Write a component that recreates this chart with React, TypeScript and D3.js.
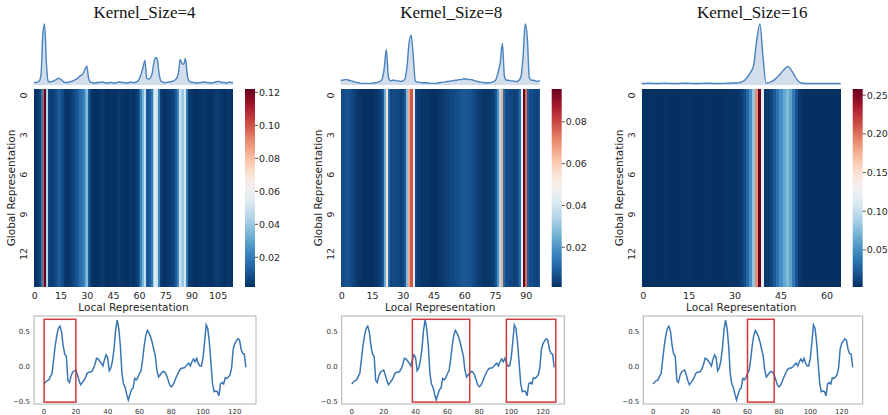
import * as d3 from 'd3'

// input signal (128 steps), same in all three panels
const series = [
  -0.25, -0.22, -0.20, -0.19, -0.14, -0.10, 0.10, 0.30, 0.45, 0.55,
  0.58, 0.50, 0.30, 0.18, 0.15, -0.20, -0.23, -0.13, -0.08, -0.06,
  -0.05, -0.12, -0.20, -0.26, -0.23, -0.20, -0.16, -0.10, -0.08, -0.08,
  -0.07, -0.03, 0.03, 0.12, 0.11, 0.08, 0.05, 0.01, 0.10, 0.17,
  0.13, -0.06, -0.02, 0.08, 0.25, 0.52, 0.67, 0.55, 0.30, -0.10,
  -0.25, -0.30, -0.40, -0.48, -0.40, -0.33, -0.31, -0.17, -0.19, -0.16,
  -0.10, -0.06, 0.10, 0.30, 0.45, 0.52, 0.48, 0.43, 0.35, 0.25,
  0.15, -0.05, -0.15, -0.12, -0.09, -0.07, -0.08, -0.12, -0.19, -0.26,
  -0.29, -0.27, -0.22, -0.16, -0.11, -0.06, -0.03, -0.02, -0.02, 0.00,
  0.03, 0.05, 0.01, 0.07, 0.11, 0.07, 0.12, 0.05, 0.01, 0.01,
  0.12, 0.35, 0.60, 0.55, 0.35, 0.05, -0.25, -0.36, -0.35, -0.36,
  -0.42, -0.25, -0.23, -0.25, -0.16, -0.17, -0.15, -0.12, -0.02, 0.25,
  0.33, 0.37, 0.40, 0.38, 0.25, 0.19, 0.18, -0.01,
]

// attention weight per local position (every global row is the same)
const attnK4 = [
  0.003, 0.003, 0.004, 0.006, 0.02, 0.10, 0.122, 0.045, 0.006, 0.004,
  0.005, 0.006, 0.008, 0.01, 0.012, 0.01, 0.007, 0.004, 0.003, 0.003,
  0.004, 0.005, 0.006, 0.008, 0.01, 0.012, 0.016, 0.018, 0.022, 0.03,
  0.036, 0.012, 0.004, 0.003, 0.002, 0.002, 0.003, 0.003, 0.004, 0.004,
  0.003, 0.002, 0.002, 0.003, 0.003, 0.002, 0.002, 0.003, 0.004, 0.004,
  0.003, 0.003, 0.002, 0.002, 0.003, 0.004, 0.003, 0.003, 0.004, 0.006,
  0.012, 0.022, 0.035, 0.048, 0.012, 0.01, 0.012, 0.02, 0.042, 0.054,
  0.05, 0.022, 0.006, 0.004, 0.003, 0.003, 0.004, 0.004, 0.005, 0.006,
  0.008, 0.012, 0.022, 0.05, 0.042, 0.04, 0.052, 0.02, 0.006, 0.004,
  0.003, 0.003, 0.002, 0.002, 0.003, 0.003, 0.004, 0.004, 0.003, 0.003,
  0.002, 0.002, 0.003, 0.004, 0.005, 0.005, 0.004, 0.003, 0.003, 0.002,
  0.003, 0.004, 0.003, 0.003,
]

const attnK8 = [
  0.006, 0.006, 0.007, 0.007, 0.006, 0.005, 0.004, 0.003, 0.002, 0.002,
  0.001, 0.001, 0.001, 0.001, 0.001, 0.001, 0.002, 0.002, 0.003, 0.004,
  0.008, 0.025, 0.055, 0.012, 0.005, 0.006, 0.006, 0.005, 0.005, 0.004,
  0.005, 0.008, 0.028, 0.066, 0.078, 0.045, 0.005, 0.003, 0.003, 0.002,
  0.002, 0.002, 0.002, 0.001, 0.001, 0.001, 0.001, 0.002, 0.002, 0.003,
  0.003, 0.004, 0.004, 0.005, 0.005, 0.006, 0.006, 0.007, 0.007, 0.008,
  0.008, 0.008, 0.007, 0.007, 0.006, 0.005, 0.004, 0.003, 0.003, 0.002,
  0.002, 0.002, 0.002, 0.003, 0.004, 0.008, 0.02, 0.035, 0.065, 0.012,
  0.006, 0.006, 0.005, 0.005, 0.004, 0.004, 0.006, 0.012, 0.045, 0.0957,
  0.075, 0.01, 0.006, 0.006, 0.005, 0.004, 0.006,
]

const attnK16 = [
  0.002, 0.002, 0.003, 0.003, 0.002, 0.002, 0.002, 0.003, 0.003, 0.002,
  0.002, 0.002, 0.002, 0.003, 0.003, 0.003, 0.002, 0.002, 0.002, 0.002,
  0.003, 0.003, 0.003, 0.002, 0.002, 0.002, 0.002, 0.003, 0.003, 0.004,
  0.004, 0.005, 0.008, 0.015, 0.03, 0.05, 0.08, 0.19, 0.258, 0.12,
  0.005, 0.006, 0.012, 0.022, 0.035, 0.05, 0.065, 0.075, 0.062, 0.04,
  0.018, 0.006, 0.003, 0.002, 0.002, 0.002, 0.002, 0.002, 0.002, 0.002,
  0.002, 0.002, 0.002, 0.002, 0.002,
]

const kernelSizes = [4, 8, 16]
const globalRows = [0, 1, 2, 3, 4, 5, 6, 7, 8, 9, 10, 11, 12, 13, 14]
const rowTicks = [0, 3, 6, 9, 12]
const heatTicks4 = [0, 15, 30, 45, 60, 75, 90, 105]
const heatTicks8 = [0, 15, 30, 45, 60, 75, 90]
const heatTicks16 = [0, 15, 30, 45, 60]
const cbTicks4 = [0.02, 0.04, 0.06, 0.08, 0.1, 0.12]
const cbTicks8 = [0.02, 0.04, 0.06, 0.08]
const cbTicks16 = [0.05, 0.1, 0.15, 0.2, 0.25]
const seriesXTicks = [0, 20, 40, 60, 80, 100, 120]
const seriesYTicks = [-0.5, 0, 0.5]
const windows4 = [[0, 20]]
const windows8 = [[38, 74], [97, 128]]
const windows16 = [[60, 77]]
const windowY = [-0.51, 0.68]

const sans = 'DejaVu Sans, sans-serif'
const textColor = '#262626'

const panels = [
  { k: kernelSizes[0], attn: attnK4, heatTicks: heatTicks4, cbTicks: cbTicks4, windows: windows4, left: 34, boxL: 34, boxR: 256 },
  { k: kernelSizes[1], attn: attnK8, heatTicks: heatTicks8, cbTicks: cbTicks8, windows: windows8, left: 340.7, boxL: 341.7, boxR: 564.3 },
  { k: kernelSizes[2], attn: attnK16, heatTicks: heatTicks16, cbTicks: cbTicks16, windows: windows16, left: 641.7, boxL: 643.3, boxR: 862.7 },
]

const hmTop = 89
const hmBottom = 287
const hmW = 199

function Panel({ p, idx }: { p: any; idx: number }) {
  const n = p.attn.length
  const [vmin, vmax] = d3.extent(p.attn as number[]) as [number, number]
  const color = d3.scaleSequential((t: number) => d3.interpolateRdBu(1 - t)).domain([vmin, vmax])

  const x = d3.scaleLinear().domain([0, n]).range([p.left, p.left + hmW])
  const y = d3.scaleBand<number>().domain(globalRows).range([hmTop, hmBottom])
  const right = p.left + hmW
  const cbX = right + 12
  const cbY = d3.scaleLinear().domain([vmin, vmax]).range([hmBottom, hmTop])

  // top profile
  const tx = d3.scaleLinear().domain([0, n - 1]).range([p.left, right])
  const ty = d3.scaleLinear().domain([0, vmax]).range([84, 24])
  const profLine = d3.line<number>().x((_, i) => tx(i)).y(d => ty(d)).curve(d3.curveMonotoneX)
  const profArea = d3.area<number>().x((_, i) => tx(i)).y0(85).y1(d => ty(d)).curve(d3.curveMonotoneX)

  // bottom series
  const sx = d3.scaleLinear().domain([-6.35, 133.35]).range([p.boxL, p.boxR])
  const sy = d3.scaleLinear().domain([-0.5375, 0.7275]).range([404, 316])
  const seriesLine = d3.line<number>().x((_, i) => sx(i)).y(d => sy(d))

  const gid = `cb${idx}`
  const stops = d3.range(0, 1.0001, 0.05)
  const titleX = (p.left + cbX + 10) / 2
  const fmt2 = d3.format('.2f')
  const fmt1 = d3.format('.1f')

  return (
    <g>
      <text x={titleX} y={18} textAnchor="middle" fontFamily="Liberation Serif, Times New Roman, serif" fontSize={17} fill="#111">
        {`Kernel_Size=${p.k}`}
      </text>

      <path d={profArea(p.attn) || ''} fill="#d3deed" />
      <path d={profLine(p.attn) || ''} fill="none" stroke="#4a83bf" strokeWidth={1.4} />

      <g shapeRendering="crispEdges">
        {globalRows.map(r =>
          p.attn.map((v: number, i: number) => (
            <rect key={`${r}-${i}`} x={x(i)} y={y(r)} width={x(i + 1) - x(i) + 0.3} height={y.bandwidth() + 0.3} fill={color(v)} />
          ))
        )}
      </g>

      {rowTicks.map(r => (
        <text key={r} transform={`translate(${p.left - 7},${(y(r) as number) + y.bandwidth() / 2}) rotate(-90)`}
          textAnchor="middle" fontFamily={sans} fontSize={9.5} fill={textColor}>{r}</text>
      ))}
      <text transform={`translate(${p.left - 19},${(hmTop + hmBottom) / 2}) rotate(-90)`} textAnchor="middle"
        fontFamily={sans} fontSize={10.5} fill={textColor}>Global Representation</text>

      {p.heatTicks.map((t: number) => (
        <text key={t} x={x(t + 0.5)} y={299} textAnchor="middle" fontFamily={sans} fontSize={9.5} fill={textColor}>{t}</text>
      ))}
      <text x={p.left + hmW / 2} y={310.5} textAnchor="middle" fontFamily={sans} fontSize={10.5} fill={textColor}>Local Representation</text>

      <defs>
        <linearGradient id={gid} x1="0" y1="1" x2="0" y2="0">
          {stops.map(s => (
            <stop key={s} offset={s} stopColor={d3.interpolateRdBu(1 - s)} />
          ))}
        </linearGradient>
      </defs>
      <rect x={cbX} y={hmTop} width={10} height={hmBottom - hmTop} fill={`url(#${gid})`} />
      {p.cbTicks.map((t: number) => (
        <g key={t} transform={`translate(${cbX + 10},${cbY(t)})`}>
          <line x2={3} stroke={textColor} strokeWidth={0.8} />
          <text x={4} dy="0.35em" fontFamily={sans} fontSize={9.5} fill={textColor}>{fmt2(t)}</text>
        </g>
      ))}

      <rect x={p.boxL} y={316} width={p.boxR - p.boxL} height={88} fill="white" stroke="#b0b0b0" strokeWidth={1} />
      <path d={seriesLine(series) || ''} fill="none" stroke="#3a76b3" strokeWidth={1.5} />
      {p.windows.map((w: number[], i: number) => (
        <rect key={i} x={sx(w[0])} y={sy(windowY[1])} width={sx(w[1]) - sx(w[0])} height={sy(windowY[0]) - sy(windowY[1])}
          fill="none" stroke="#d03a3a" strokeWidth={1.5} />
      ))}
      {seriesXTicks.map(t => (
        <text key={t} x={sx(t)} y={414} textAnchor="middle" fontFamily={sans} fontSize={7} fill="#333">{t}</text>
      ))}
      {seriesYTicks.map(t => (
        <text key={t} x={p.boxL - 4} y={sy(t)} dy="0.35em" textAnchor="end" fontFamily={sans} fontSize={7} fill="#333">{fmt1(t)}</text>
      ))}
    </g>
  )
}

export default function App() {
  return (
    <svg width={888} height={415} style={{ position: 'absolute', left: 0, top: 0, background: 'white' }}>
      {panels.map((p, i) => (
        <Panel key={i} p={p} idx={i} />
      ))}
    </svg>
  )
}
